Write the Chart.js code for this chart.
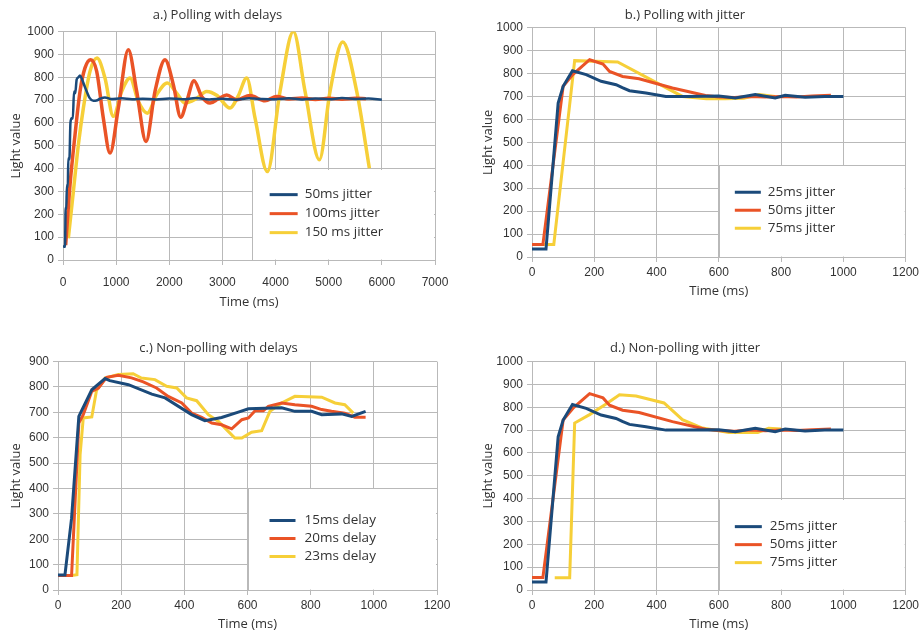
<!DOCTYPE html>
<html>
<head>
<meta charset="utf-8">
<script src="https://cdn.jsdelivr.net/npm/chart.js@4.4.1/dist/chart.umd.min.js"></script>
<style>
  html, body { margin: 0; padding: 0; background: #fff; overflow: hidden; }
  .panel { position: absolute; }
</style>
</head>
<body>
<div class="panel" style="left:0;top:0;width:460px;height:310px"><canvas id="chartA"></canvas></div>
<div class="panel" style="left:462px;top:0;width:460px;height:307px"><canvas id="chartB"></canvas></div>
<div class="panel" style="left:0;top:322px;width:460px;height:313px"><canvas id="chartC"></canvas></div>
<div class="panel" style="left:462px;top:322px;width:460px;height:313px"><canvas id="chartD"></canvas></div>
<script>
// a.) Polling with delays
const poll50Time  = [0, 38, 50, 60, 75, 90, 100, 120, 140, 163, 185, 207, 230, 257, 290, 320, 360, 400, 446, 500, 571, 630, 696, 790, 900, 1100, 1300, 1500, 1750, 2000, 2250, 2500, 2750, 3000, 3250, 3500, 3750, 4000, 4250, 4500, 4750, 5000, 5250, 5500, 5750, 6000];
const poll50Value = [60, 58, 230, 220, 330, 320, 446, 440, 600, 621, 620, 738, 730, 790, 800, 808, 790, 765, 738, 710, 697, 698, 706, 712, 705, 708, 704, 706, 703, 707, 704, 709, 703, 706, 702, 708, 705, 704, 708, 703, 707, 704, 709, 705, 707, 702];
const poll100Time  = [50, 132, 226, 320, 414, 521, 634, 759, 885, 1041, 1229, 1387, 1562, 1731, 1920, 2076, 2215, 2328, 2465, 2610, 2767, 2920, 3081, 3269, 3519, 3801, 4021, 4250, 4500, 4750, 5000, 5250, 5500, 5700];
const poll100Value = [65, 329, 548, 738, 841, 877, 826, 621, 468, 665, 921, 738, 519, 738, 877, 768, 625, 694, 785, 716, 687, 705, 722, 702, 720, 697, 716, 705, 709, 703, 708, 704, 708, 706];
const poll150Time  = [100, 195, 289, 383, 508, 640, 790, 947, 1104, 1261, 1418, 1587, 1763, 1964, 2139, 2296, 2500, 2704, 2900, 3143, 3300, 3457, 3614, 3845, 4084, 4335, 4555, 4825, 5025, 5263, 5527, 5765];
const poll150Value = [95, 300, 504, 665, 826, 884, 797, 629, 738, 797, 694, 643, 724, 775, 731, 687, 705, 738, 720, 665, 720, 797, 621, 387, 738, 1000, 738, 439, 738, 955, 738, 402];

// b.) Polling with jitter / d.) Non-polling with jitter (25ms and 50ms runs)
const jitter25Time  = [0, 45, 84, 100, 130, 174, 222, 270, 290, 313, 366, 430, 500, 600, 653, 717, 781, 813, 877, 940, 1000];
const jitter25Value = [35, 35, 671, 744, 812, 795, 766, 751, 738, 725, 715, 700, 700, 702, 693, 708, 693, 705, 696, 700, 700];
const jitter50Time  = [0, 35, 100, 131, 185, 228, 249, 291, 344, 451, 557, 600, 650, 700, 750, 800, 850, 900, 960];
const jitter50Value = [55, 55, 744, 795, 860, 841, 809, 787, 777, 737, 704, 698, 695, 700, 697, 700, 698, 702, 705];
const pollJitter75Time  = [0, 70, 137, 275, 483, 560, 620, 680, 730, 780];
const pollJitter75Value = [55, 55, 856, 850, 700, 690, 690, 692, 708, 700];
const nonPollJitter75Time  = [73, 121, 137, 185, 238, 281, 334, 424, 483, 547, 632, 725, 760, 800];
const nonPollJitter75Value = [54, 54, 731, 768, 814, 855, 849, 819, 746, 709, 690, 690, 708, 705];

// c.) Non-polling with delays
const delay15Time  = [0, 22, 43, 66, 107, 149, 164, 223, 297, 339, 423, 465, 518, 571, 603, 708, 750, 803, 835, 898, 930, 974];
const delay15Value = [59, 59, 283, 684, 789, 833, 825, 809, 772, 757, 691, 667, 680, 701, 714, 718, 704, 704, 691, 694, 684, 704];
const delay20Time  = [0, 43, 66, 80, 107, 128, 154, 191, 233, 270, 312, 349, 392, 423, 455, 487, 518, 550, 582, 603, 624, 650, 666, 708, 750, 803, 835, 866, 908, 940, 974];
const delay20Value = [57, 57, 658, 691, 783, 796, 838, 846, 836, 820, 796, 763, 737, 697, 680, 658, 651, 635, 671, 678, 706, 706, 724, 737, 730, 724, 711, 704, 697, 681, 681];
const delay23Time  = [0, 43, 60, 70, 80, 107, 122, 149, 191, 238, 264, 307, 344, 376, 407, 439, 476, 508, 539, 560, 582, 613, 645, 671, 708, 750, 835, 877, 908, 935];
const delay23Value = [57, 57, 60, 533, 678, 682, 787, 835, 849, 852, 835, 829, 803, 796, 757, 746, 691, 664, 625, 599, 599, 622, 628, 704, 737, 763, 760, 737, 730, 697];

const blue = '#1b4a7a';
const orange = '#ea5326';
const yellow = '#f6cf38';
const gridColor = '#b9b9b9';
const textColor = '#333';

function points(times, values) {
    return times.map((t, i) => ({ x: t, y: values[i] }));
}

// white box in the lower right of the plot, with the series keys in it
const legendBox = {
    id: 'legendBox',
    beforeDatasetsDraw(chart, args, opts) {
        const { ctx, chartArea, scales } = chart;
        const left = Math.round(scales.x.getPixelForValue(opts.fromX)) + 0.5;
        const top = Math.round(scales.y.getPixelForValue(opts.fromY)) + 0.5;
        ctx.save();
        ctx.fillStyle = '#fff';
        ctx.fillRect(left, top + 0.5, chartArea.right - left - 1, chartArea.bottom - top - 1);
        ctx.strokeStyle = gridColor;
        ctx.lineWidth = 1;
        ctx.beginPath();
        ctx.moveTo(left, top);
        ctx.lineTo(left, chartArea.bottom);
        ctx.stroke();
        ctx.restore();
    },
    afterDatasetsDraw(chart, args, opts) {
        const { ctx, scales } = chart;
        const left = scales.x.getPixelForValue(opts.fromX);
        const top = scales.y.getPixelForValue(opts.fromY);
        ctx.save();
        ctx.font = '13.5px "Open Sans"';
        ctx.textBaseline = 'middle';
        ctx.fillStyle = textColor;
        chart.data.datasets.forEach((ds, i) => {
            const y = top + opts.dy + i * opts.gap;
            const x0 = left + opts.dx;
            ctx.strokeStyle = ds.borderColor;
            ctx.lineWidth = 3;
            ctx.beginPath();
            ctx.moveTo(x0, y);
            ctx.lineTo(x0 + opts.len, y);
            ctx.stroke();
            ctx.fillText(ds.label, x0 + opts.len + opts.textGap, y);
        });
        ctx.restore();
    }
};

function makeChart(id, cfg) {
    return new Chart(document.getElementById(id), {
        type: 'line',
        data: {
            datasets: cfg.sets.map(s => ({
                label: s.label,
                data: points(s.t, s.v),
                borderColor: s.color,
                borderWidth: s.width || 3,
                pointRadius: 0,
                fill: false,
                cubicInterpolationMode: cfg.smooth ? 'monotone' : 'default',
                tension: 0
            }))
        },
        options: {
            responsive: true,
            maintainAspectRatio: false,
            animation: false,
            layout: { padding: { left: 0, right: cfg.padRight, top: 0, bottom: 0 } },
            scales: {
                x: {
                    type: 'linear',
                    min: 0,
                    max: cfg.xMax,
                    afterFit: scale => { scale.height = cfg.xHeight; },
                    ticks: { stepSize: cfg.xStep, padding: cfg.xTickPad, color: textColor, font: { family: 'Liberation Sans', size: 12 }, maxRotation: 0, callback: v => String(v) },
                    grid: { color: gridColor, tickLength: 5 },
                    border: { color: gridColor },
                    title: { display: true, text: 'Time (ms)', color: textColor, font: { family: 'Open Sans', size: 13 }, padding: { top: 0, bottom: cfg.xTitlePad } }
                },
                y: {
                    min: 0,
                    max: cfg.yMax,
                    afterFit: scale => { scale.width = cfg.yWidth; },
                    ticks: { stepSize: 100, padding: 4, color: textColor, font: { family: 'Liberation Sans', size: 12 }, callback: v => String(v) },
                    grid: { color: gridColor, tickLength: 5 },
                    border: { color: gridColor },
                    title: { display: true, text: 'Light value', color: textColor, font: { family: 'Open Sans', size: 13 }, padding: { top: cfg.yTitlePad, bottom: 0 } }
                }
            },
            plugins: {
                legend: { display: false },
                tooltip: { enabled: false },
                title: {
                    display: true,
                    text: cfg.title,
                    color: textColor,
                    font: { family: 'Open Sans', size: 13, weight: 'normal' },
                    padding: cfg.titlePad
                },
                legendBox: cfg.legend
            }
        },
        plugins: [legendBox]
    });
}

makeChart('chartA', {
    title: 'a.) Polling with delays',
    smooth: true,
    xMax: 7000, xStep: 1000, yMax: 1000,
    padRight: 25, yWidth: 63, xHeight: 50, xTickPad: 10, xTitlePad: 0, yTitlePad: 8,
    titlePad: { top: 7, bottom: 9 },
    legend: { fromX: 3550, fromY: 400, dx: 18, dy: 26, gap: 19, len: 28, textGap: 7 },
    sets: [
        { label: '50ms jitter', t: poll50Time, v: poll50Value, color: blue, width: 2.5 },
        { label: '100ms jitter', t: poll100Time, v: poll100Value, color: orange, width: 3.5 },
        { label: '150 ms jitter', t: poll150Time, v: poll150Value, color: yellow, width: 3.5 }
    ]
});

makeChart('chartB', {
    title: 'b.) Polling with jitter',
    smooth: false,
    xMax: 1200, xStep: 200, yMax: 1000,
    padRight: 14, yWidth: 70, xHeight: 50, xTickPad: 3, xTitlePad: 8, yTitlePad: 18,
    titlePad: { top: 7, bottom: 5 },
    legend: { fromX: 600, fromY: 400, dx: 16, dy: 27, gap: 18, len: 26, textGap: 7 },
    sets: [
        { label: '25ms jitter', t: jitter25Time, v: jitter25Value, color: blue },
        { label: '50ms jitter', t: jitter50Time, v: jitter50Value, color: orange },
        { label: '75ms jitter', t: pollJitter75Time, v: pollJitter75Value, color: yellow }
    ]
});

makeChart('chartC', {
    title: 'c.) Non-polling with delays',
    smooth: false,
    xMax: 1200, xStep: 200, yMax: 900,
    padRight: 23, yWidth: 58, xHeight: 45, xTickPad: 3, xTitlePad: 3, yTitlePad: 8,
    titlePad: { top: 18, bottom: 6 },
    legend: { fromX: 600, fromY: 400, dx: 22, dy: 32, gap: 18, len: 26, textGap: 9 },
    sets: [
        { label: '15ms delay', t: delay15Time, v: delay15Value, color: blue },
        { label: '20ms delay', t: delay20Time, v: delay20Value, color: orange },
        { label: '23ms delay', t: delay23Time, v: delay23Value, color: yellow }
    ]
});

makeChart('chartD', {
    title: 'd.) Non-polling with jitter',
    smooth: false,
    xMax: 1200, xStep: 200, yMax: 1000,
    padRight: 14, yWidth: 70, xHeight: 45, xTickPad: 3, xTitlePad: 3, yTitlePad: 18,
    titlePad: { top: 18, bottom: 6 },
    legend: { fromX: 600, fromY: 400, dx: 16, dy: 28, gap: 18, len: 27, textGap: 8 },
    sets: [
        { label: '25ms jitter', t: jitter25Time, v: jitter25Value, color: blue },
        { label: '50ms jitter', t: jitter50Time, v: jitter50Value, color: orange },
        { label: '75ms jitter', t: nonPollJitter75Time, v: nonPollJitter75Value, color: yellow }
    ]
});
</script>
</body>
</html>
